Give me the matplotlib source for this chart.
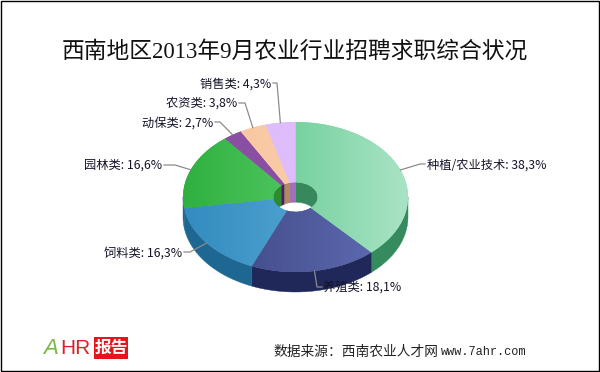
import numpy as np
import matplotlib
matplotlib.use('Agg')
import matplotlib.pyplot as plt
from matplotlib.colors import LinearSegmentedColormap
from matplotlib.patches import Rectangle

plt.rcParams['font.family'] = ['Noto Sans CJK SC', 'DejaVu Sans']

# data, clockwise from 12 o'clock
names = ['种植/农业技术', '养殖类', '饲料类', '园林类', '动保类', '农资类', '销售类']
values = [38.3, 18.1, 16.3, 16.6, 2.7, 3.8, 4.3]
value_labels = ['38,3%', '18,1%', '16,3%', '16,6%', '2,7%', '3,8%', '4,3%']

title = '西南地区2013年9月农业行业招聘求职综合状况'
source = '数据来源：西南农业人才网'
site = 'www.7ahr.com'

# colours
grad_left = ['#78d2a0', '#46508f', '#338bbf', '#2fb040', '#8a4fa3', '#f8c8a2', '#dfbcfb']
grad_right = ['#a9e3c6', '#5c68ae', '#4a9fcd', '#4cc35c', '#8a4fa3', '#f9cba6', '#dfbcfb']
wall_cols = ['#358a5e', '#20285a', '#1e6793', '#1e6793', '#5a2f70', '#b08a5a', '#a070b8']
inner_cols = ['#37885c', '#20285a', '#1e6793', '#2e8a2e', '#4a1c6a', '#b08a5a', '#a070b8']

# pie geometry in pixels
W, H = 600, 372
cx, cy, rx, ry = 295.5, 197.0, 112.5, 75.0
depth = 20.0 / ry
hole = 0.197

# label anchor (x of text), y and the elbow of the leader
label_x = [427, 323, 182, 162, 213, 237, 271]
label_y = [165, 287, 253, 165, 123, 103, 84]
label_ha = ['left', 'left', 'right', 'right', 'right', 'right', 'right']
elbows = [[(420, 164), (425, 164)], [(317, 287), (322, 287)], [(190, 252), (184, 252)],
          [(175, 165), (164, 165)], [(220, 122), (215, 122)], [(245, 103), (239, 103)],
          [(277, 83), (273, 83)]]

fig = plt.figure(figsize=(W / 100, H / 100), dpi=100, facecolor='white')

# pie axes: one data unit is rx pixels across and ry pixels high
ax = fig.add_axes([0, 0, 1, 1])
wedges, _ = ax.pie(values, startangle=90, counterclock=False, radius=1, center=(0, 0),
                   wedgeprops=dict(width=1 - hole, linewidth=0), colors=grad_left)
for w in wedges:
    w.set_zorder(5)
ax.set_aspect('auto')
xlim = (-cx / rx, (W - cx) / rx)
ylim = ((cy - H) / ry, cy / ry)
ax.set_xlim(xlim)
ax.set_ylim(ylim)
ax.axis('off')

fracs = np.array(values) / np.sum(values)
ends = np.cumsum(fracs) * 360
starts = ends - fracs * 360
mids = (starts + ends) / 2

# outer wall (front half) and inner wall (back half of the hole)
for s, e, wc, ic in zip(starts, ends, wall_cols, inner_cols):
    lo, hi = max(s, 90), min(e, 270)
    if hi > lo:
        t = np.radians(np.linspace(lo, hi, 80))
        x, y = np.sin(t), np.cos(t)
        ax.fill(np.r_[x, x[::-1]], np.r_[y, y[::-1] - depth], color=wc, lw=0.3, zorder=2)
    for lo, hi in [(s, min(e, 90)), (max(s, 270), e)]:
        if hi > lo:
            t = np.radians(np.linspace(lo, hi, 40))
            x, y = hole * np.sin(t), hole * np.cos(t)
            ax.fill(np.r_[x, x[::-1]], np.r_[y, y[::-1] - depth], color=ic, lw=0.3, zorder=2)

# horizontal gradient on each slice, clipped to the wedge
inv = ax.transData.inverted()
for w, c0, c1 in zip(wedges, grad_left, grad_right):
    bb = w.get_window_extent(fig.canvas.get_renderer()).transformed(inv)
    cmap = LinearSegmentedColormap.from_list('g', [c0, c1])
    im = ax.imshow(np.linspace(0, 1, 128)[None, :], cmap=cmap, aspect='auto', zorder=6,
                   extent=(bb.x0, bb.x1, bb.y0, bb.y1), interpolation='bilinear')
    im.set_clip_path(w)
ax.set_xlim(xlim)
ax.set_ylim(ylim)
ax.set_aspect('auto')

# overlay in pixel coordinates for leaders and text
ov = fig.add_axes([0, 0, 1, 1], facecolor='none')
ov.set_xlim(0, W)
ov.set_ylim(H, 0)
ov.axis('off')

for name, val, m, lx, ly, ha, elbow in zip(names, value_labels, mids, label_x, label_y, label_ha, elbows):
    t = np.radians(m)
    px = [cx + rx * np.sin(t)] + [p[0] for p in elbow]
    py = [cy - ry * np.cos(t)] + [p[1] for p in elbow]
    ov.plot(px, py, color='#8c8c8c', lw=0.9, zorder=7)
    ov.text(lx, ly, f'{name}: {val}', ha=ha, va='center', fontsize=8.8, color='#14142a', zorder=8)

ov.text(295, 52, title, ha='center', va='center', fontsize=16.4, color='#111111',
        family=['Liberation Serif', 'Noto Sans CJK SC'])
ov.text(274, 352, source, ha='left', va='center', fontsize=9.9, color='#222222')
ov.text(441, 352, site, ha='left', va='center', fontsize=8.6, color='#222222',
        family='Liberation Mono')

# logo
ov.text(43, 349, 'A', ha='left', va='center', fontsize=16, style='italic', color='#7ab648',
        family='Liberation Sans')
ov.text(60, 349, 'HR', ha='left', va='center', fontsize=15, color='#d8232a',
        family='Liberation Sans')
ov.add_patch(Rectangle((94, 337), 34, 22, color='#e8141c', lw=0))
ov.text(111, 348, '报告', ha='center', va='center', fontsize=12, color='white', fontweight='bold')

# border
ov.add_patch(Rectangle((0.5, 0.5), W - 1.5, H - 1.5, fill=False, edgecolor='black', lw=1.0, zorder=20))

fig.savefig('out.png', dpi=100)
